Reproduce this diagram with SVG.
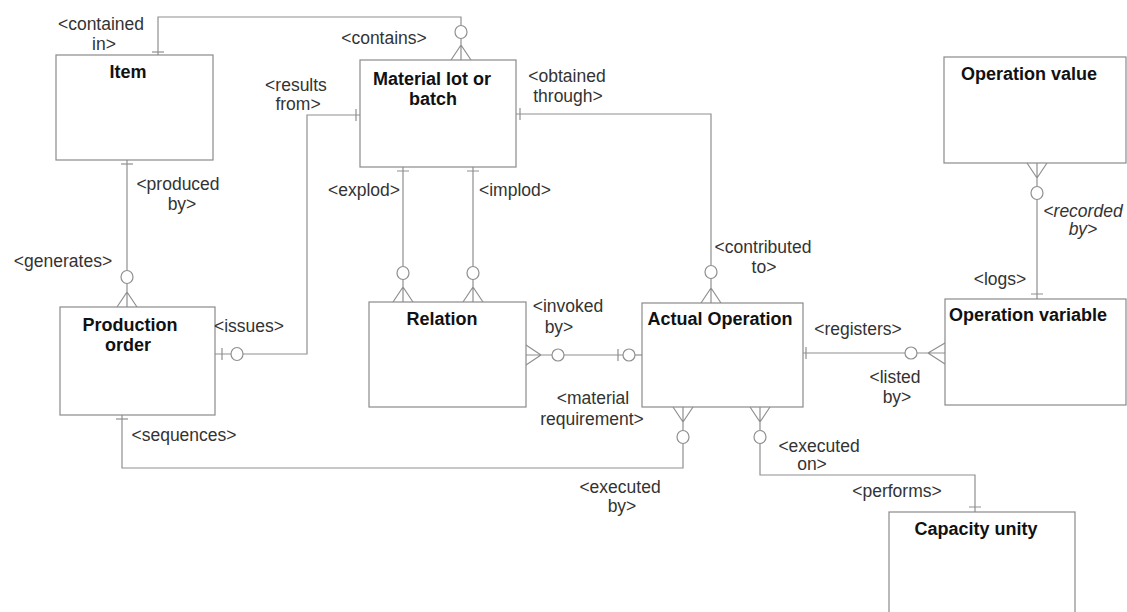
<svg xmlns="http://www.w3.org/2000/svg" width="1127" height="612" viewBox="0 0 1127 612">
<style>
.box{fill:#fff;stroke:#8a8a8a;stroke-width:1.2}
.ttl{font-family:"Liberation Sans",Arial,sans-serif;font-weight:bold;font-size:18px;fill:#111;text-anchor:middle}
.lbl{font-family:"Liberation Sans",Arial,sans-serif;font-size:17.5px;fill:#333;text-anchor:middle}
.it{font-style:italic}
.ln{fill:none;stroke:#8f8f8f;stroke-width:1.2}
.cir{fill:#fff;stroke:#8f8f8f;stroke-width:1.2}
</style>
<rect width="1127" height="612" fill="#fff"/>
<g id="connectors">
  <!-- Item - Material lot -->
  <path class="ln" d="M158,55 V17 H461 V26"/>
  <path class="ln" d="M152,52 H164"/>
  <ellipse class="cir" cx="461" cy="32" rx="6" ry="6.5"/>
  <path class="ln" d="M461,38.5 V60 M451,60 L461,45 L471,60"/>
  <!-- Item - Production order -->
  <path class="ln" d="M127,160 V270.5"/>
  <path class="ln" d="M121,164 H133"/>
  <ellipse class="cir" cx="127" cy="277" rx="6" ry="6.5"/>
  <path class="ln" d="M127,283.5 V307 M117,307 L127,292 L137,307"/>
  <!-- Material lot - Production order -->
  <path class="ln" d="M360,115 H307 V354 H243"/>
  <path class="ln" d="M356,109 V121"/>
  <ellipse class="cir" cx="237" cy="354" rx="6" ry="6.5"/>
  <path class="ln" d="M231,354 H215 M222,348 V360"/>
  <!-- Material lot - Actual Operation -->
  <path class="ln" d="M516,114 H711 V265.5"/>
  <path class="ln" d="M520,108 V120"/>
  <ellipse class="cir" cx="711" cy="272" rx="6" ry="6.5"/>
  <path class="ln" d="M711,278.5 V303 M701,303 L711,288 L721,303"/>
  <!-- explod -->
  <path class="ln" d="M403,167 V266.5 M397,171 H409"/>
  <ellipse class="cir" cx="403" cy="273" rx="6" ry="6.5"/>
  <path class="ln" d="M403,279.5 V302 M393,302 L403,287 L413,302"/>
  <!-- implod -->
  <path class="ln" d="M473,167 V266.5 M467,171 H479"/>
  <ellipse class="cir" cx="473" cy="273" rx="6" ry="6.5"/>
  <path class="ln" d="M473,279.5 V302 M463,302 L473,287 L483,302"/>
  <!-- Relation - Actual Operation -->
  <path class="ln" d="M526,355 H552 M526,345 L541,355 L526,365"/>
  <ellipse class="cir" cx="558" cy="355" rx="6" ry="6"/>
  <path class="ln" d="M564,355 H623 M618,349 V361"/>
  <ellipse class="cir" cx="629" cy="355" rx="6" ry="6"/>
  <path class="ln" d="M635,355 H642"/>
  <!-- Actual Operation - Operation variable -->
  <path class="ln" d="M803,353 H905 M806,347 V359"/>
  <ellipse class="cir" cx="911" cy="353" rx="6" ry="6"/>
  <path class="ln" d="M917,353 H945 M945,343 L928,353 L945,364"/>
  <!-- Operation value - Operation variable -->
  <path class="ln" d="M1037,163 V187 M1027,163 L1037,178 L1047,163"/>
  <ellipse class="cir" cx="1037" cy="193" rx="6" ry="6.5"/>
  <path class="ln" d="M1037,199.5 V299 M1031,294 H1043"/>
  <!-- Production order - Actual Operation (sequences / executed by) -->
  <path class="ln" d="M122,415 V468 H683 V443.5"/>
  <path class="ln" d="M116,419 H128"/>
  <ellipse class="cir" cx="683" cy="437" rx="6" ry="6.5"/>
  <path class="ln" d="M683,430.5 V407 M673,407 L683,422 L693,407"/>
  <!-- Actual Operation - Capacity unity -->
  <path class="ln" d="M760,407 V430.5 M750,407 L760,422 L770,407"/>
  <ellipse class="cir" cx="760" cy="437" rx="6" ry="6.5"/>
  <path class="ln" d="M760,443.5 V475 H975 V512 M969,507 H981"/>
</g>
<g id="item">
  <rect class="box" x="56" y="55" width="157" height="105"/>
  <text class="ttl" x="128" y="78">Item</text>
</g>
<g id="material-lot">
  <rect class="box" x="360" y="60" width="156" height="107"/>
  <text class="ttl" x="432" y="85">Material lot or</text>
  <text class="ttl" x="433" y="105">batch</text>
</g>
<g id="production-order">
  <rect class="box" x="60" y="307" width="155" height="108"/>
  <text class="ttl" x="130" y="331">Production</text>
  <text class="ttl" x="128" y="351">order</text>
</g>
<g id="relation">
  <rect class="box" x="369" y="302" width="157" height="105"/>
  <text class="ttl" x="442" y="325">Relation</text>
</g>
<g id="actual-operation">
  <rect class="box" x="642" y="303" width="161" height="104"/>
  <text class="ttl" x="720" y="325">Actual Operation</text>
</g>
<g id="operation-value">
  <rect class="box" x="944" y="57" width="182" height="106"/>
  <text class="ttl" x="1029" y="80">Operation value</text>
</g>
<g id="operation-variable">
  <rect class="box" x="945" y="299" width="181" height="106"/>
  <text class="ttl" x="1028" y="321">Operation variable</text>
</g>
<g id="capacity-unity">
  <rect class="box" x="889" y="512" width="186" height="110"/>
  <text class="ttl" x="976" y="535">Capacity unity</text>
</g>
<g id="labels">
  <text class="lbl" x="101" y="30">&lt;contained</text>
  <text class="lbl" x="104" y="50">in&gt;</text>
  <text class="lbl" x="384" y="44">&lt;contains&gt;</text>
  <text class="lbl" x="296" y="91">&lt;results</text>
  <text class="lbl" x="298" y="110">from&gt;</text>
  <text class="lbl" x="567" y="82">&lt;obtained</text>
  <text class="lbl" x="568" y="102">through&gt;</text>
  <text class="lbl" x="178" y="190">&lt;produced</text>
  <text class="lbl" x="182" y="210">by&gt;</text>
  <text class="lbl" x="63" y="267">&lt;generates&gt;</text>
  <text class="lbl" x="249" y="332">&lt;issues&gt;</text>
  <text class="lbl" x="184" y="441">&lt;sequences&gt;</text>
  <text class="lbl" x="364" y="196">&lt;explod&gt;</text>
  <text class="lbl" x="515" y="196">&lt;implod&gt;</text>
  <text class="lbl" x="568" y="312">&lt;invoked</text>
  <text class="lbl" x="559" y="333">by&gt;</text>
  <text class="lbl" x="593" y="404">&lt;material</text>
  <text class="lbl" x="592" y="425">requirement&gt;</text>
  <text class="lbl" x="763" y="253">&lt;contributed</text>
  <text class="lbl" x="764" y="273">to&gt;</text>
  <text class="lbl" x="858" y="335">&lt;registers&gt;</text>
  <text class="lbl" x="895" y="383">&lt;listed</text>
  <text class="lbl" x="897" y="403">by&gt;</text>
  <text class="lbl" x="1000" y="285">&lt;logs&gt;</text>
  <text class="lbl it" x="1083" y="217">&lt;recorded</text>
  <text class="lbl it" x="1083" y="235">by&gt;</text>
  <text class="lbl" x="819" y="452">&lt;executed</text>
  <text class="lbl" x="812" y="470">on&gt;</text>
  <text class="lbl" x="620" y="493">&lt;executed</text>
  <text class="lbl" x="622" y="512">by&gt;</text>
  <text class="lbl" x="897" y="497">&lt;performs&gt;</text>
</g>
</svg>
